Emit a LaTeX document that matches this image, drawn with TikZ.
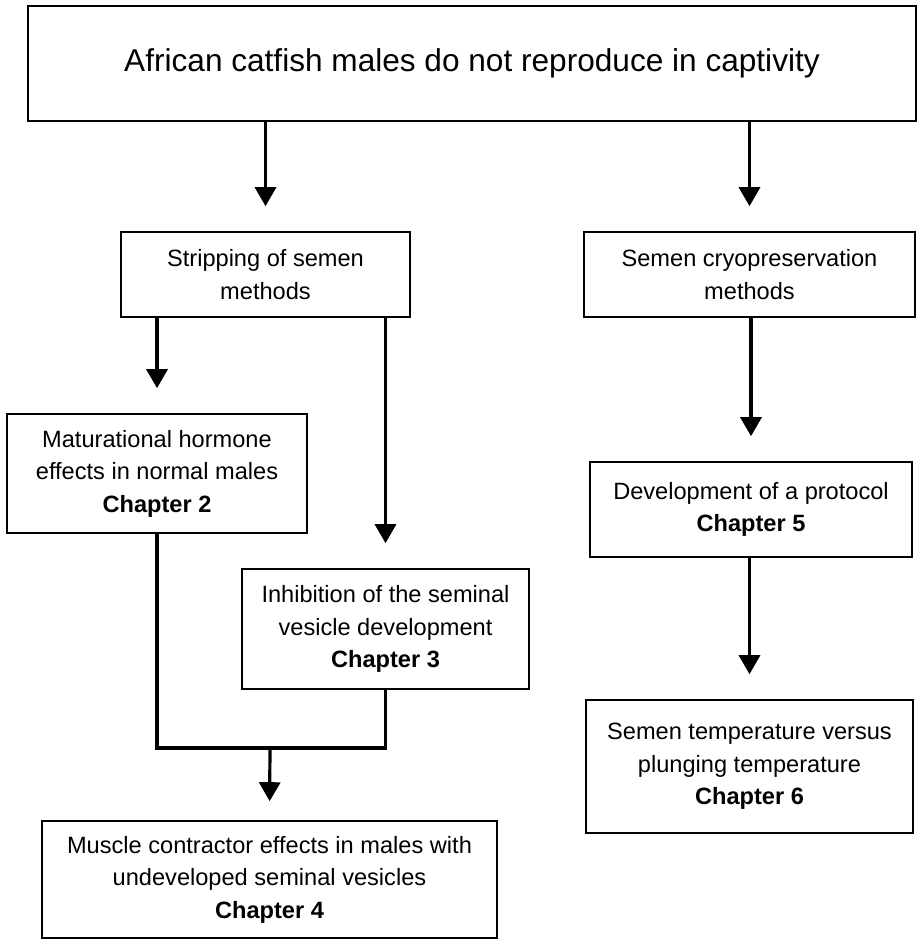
\documentclass[tikz,border=0pt]{standalone}
\usepackage{fontspec}
\setmainfont{Liberation Sans}
\usetikzlibrary{arrows.meta}

\begin{document}
\begin{tikzpicture}[x=1pt, y=-1pt,
  box/.style={draw, line width=1.6pt, align=center, inner sep=0pt, font=\fontsize{23.6}{32.5}\selectfont},
  arr/.style={line width=3.2pt, -{Triangle[width=21pt,length=19pt]}, shorten >=25pt},
  link/.style={line width=3.2pt}]
\useasboundingbox (0,0) rectangle (918,940);
\node[box, minimum width=888pt, minimum height=115pt, font=\fontsize{31.6}{38}\selectfont] (top) at (472,63.5) {African catfish males do not reproduce in captivity};
\node[box, minimum width=289pt, minimum height=85pt] (strip) at (265.5,274.5) {Stripping of semen\\methods};
\node[box, minimum width=331pt, minimum height=85pt] (cryo) at (749.5,274.5) {Semen cryopreservation\\methods};
\node[box, minimum width=300pt, minimum height=119pt] (matur) at (157,473.5) {Maturational hormone\\effects in normal males\\\textbf{Chapter 2}};
\node[box, minimum width=287pt, minimum height=120pt] (inhib) at (385.5,629) {Inhibition of the seminal\\vesicle development\\\textbf{Chapter 3}};
\node[box, minimum width=455pt, minimum height=117pt] (muscle) at (269.5,879.5) {Muscle contractor effects in males with\\undeveloped seminal vesicles\\\textbf{Chapter 4}};
\node[box, minimum width=322pt, minimum height=95pt] (devel) at (751,509.5) {Development of a protocol\\\textbf{Chapter 5}};
\node[box, minimum width=327pt, minimum height=133pt] (temp) at (749.5,766.5) {Semen temperature versus\\plunging temperature\\\textbf{Chapter 6}};
\coordinate (join) at (270,748);

\draw[arr] (top.south -| strip.north) -- (strip.north);
\draw[arr] (top.south -| cryo.north) -- (cryo.north);
\draw[arr] (strip.south -| matur.north) -- (matur.north);
\draw[arr] (strip.south -| inhib.north) -- (inhib.north);
\draw[arr] (cryo.south -| devel.north) -- (devel.north);
\draw[arr] (devel.south -| temp.north) -- (temp.north);
\draw[link] (matur.south) |- (inhib.south |- join) -- (inhib.south);
\draw[arr, shorten >=19pt] (join) -- (muscle.north);
\end{tikzpicture}
\end{document}
